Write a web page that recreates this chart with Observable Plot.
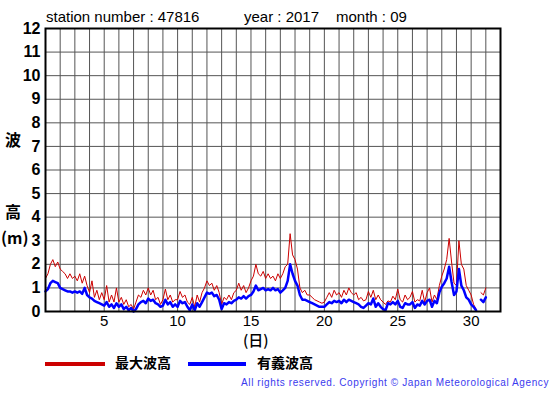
<!DOCTYPE html>
<html><head><meta charset="utf-8">
<script src="https://cdn.jsdelivr.net/npm/d3@7"></script>
<script src="https://cdn.jsdelivr.net/npm/@observablehq/plot@0.6"></script>
<style>
body{margin:0;background:#fff;}
#wrap{position:relative;width:555px;height:395px;font-family:"Liberation Sans",Arial,sans-serif;color:#000;overflow:hidden;}
.abs{position:absolute;white-space:pre;line-height:1;}
.cjk{font-family:"Noto Sans CJK JP","Liberation Sans",sans-serif;font-weight:bold;}
#wrap svg g[aria-label="y-axis tick label"] text{font-weight:bold;}
</style></head><body><div id="wrap"></div>
<script>
// ---- data (sampled every 4 hours, starting day 1 00h) ----
const titleParts = ["station number : 47816", "year : 2017", "month : 09"];
const samplesPerDay = 6;
const maxWave = [ // 最大波高 (m)
  1.4,1.6,2.0,2.2,1.9,2.1,
  1.8,1.7,1.6,1.4,1.6,1.4,
  1.5,1.3,1.6,1.2,1.5,1.1,
  0.8,1.3,0.6,0.9,0.5,0.8,
  0.5,1.1,0.4,0.7,0.4,1.0,
  0.4,0.6,0.3,0.5,0.2,0.3,
  0.1,0.4,0.7,0.6,0.9,0.7,
  1.0,0.7,0.9,0.5,0.6,0.3,
  0.5,0.95,0.5,0.7,0.4,0.5,
  0.5,0.85,0.6,0.7,0.4,0.3,
  0.6,0.2,0.7,0.4,0.8,1.0,
  1.3,1.1,1.2,0.9,1.1,0.8,
  0.3,0.6,0.5,0.7,0.5,0.8,
  0.9,1.2,0.9,1.1,0.8,1.0,
  1.3,1.5,2.0,1.6,1.5,1.7,
  1.4,1.6,1.4,1.5,1.3,1.6,
  1.4,1.6,1.9,2.0,3.3,2.4,
  2.2,1.8,1.0,0.8,0.9,0.7,
  0.7,0.6,0.5,0.45,0.4,0.35,
  0.4,0.6,0.8,0.6,0.9,0.7,
  0.8,0.6,0.9,0.7,1.0,0.8,
  0.7,0.8,0.5,0.6,0.45,0.5,
  0.85,0.6,0.9,0.5,0.7,0.5,
  0.4,0.3,0.45,0.4,0.65,0.5,
  0.95,0.5,0.4,0.7,0.5,0.6,
  0.85,0.4,0.5,0.45,0.9,0.4,
  0.8,1.0,0.4,0.7,0.5,1.1,
  1.5,1.8,2.2,3.1,2.1,1.2,
  1.1,3.0,2.0,1.8,1.1,0.9,
  0.7,0.3,0.1,null,0.8,0.7,
  1.0
];
const sigWave = [ // 有義波高 (m)
  0.85,0.95,1.2,1.3,1.25,1.2,
  1.0,0.95,0.9,0.85,0.85,0.8,
  0.85,0.8,0.85,0.75,1.0,0.7,
  0.6,0.55,0.45,0.4,0.35,0.3,
  0.25,0.4,0.2,0.3,0.15,0.35,
  0.2,0.3,0.1,0.2,0.05,0.15,
  0.0,0.1,0.3,0.4,0.45,0.35,
  0.55,0.45,0.5,0.35,0.3,0.2,
  0.25,0.5,0.3,0.4,0.2,0.3,
  0.2,0.45,0.35,0.4,0.2,0.05,
  0.3,0.05,0.35,0.2,0.4,0.6,
  0.8,0.75,0.8,0.65,0.7,0.5,
  0.1,0.35,0.3,0.4,0.35,0.45,
  0.5,0.6,0.55,0.65,0.55,0.65,
  0.7,0.85,1.1,0.9,0.95,1.0,
  0.9,0.95,0.9,1.0,0.9,0.95,
  0.8,0.9,1.0,1.3,2.0,1.6,
  1.3,1.1,0.7,0.5,0.5,0.45,
  0.4,0.35,0.3,0.25,0.2,0.2,
  0.2,0.3,0.4,0.35,0.45,0.4,
  0.45,0.35,0.5,0.4,0.5,0.45,
  0.4,0.35,0.3,0.2,0.15,0.25,
  0.35,0.3,0.55,0.2,0.35,0.2,
  0.1,0.05,0.35,0.3,0.4,0.3,
  0.45,0.2,0.15,0.35,0.3,0.3,
  0.4,0.15,0.3,0.25,0.45,0.3,
  0.45,0.5,0.2,0.45,0.35,0.8,
  1.05,1.2,1.4,1.9,1.25,0.7,
  0.85,1.8,1.1,0.9,0.6,0.5,
  0.3,0.2,0.05,null,0.5,0.4,
  0.6
];
const xTicks = [5,10,15,20,25,30];
const dayLines = [1,2,3,4,5,6,7,8,9,10,11,12,13,14,15,16,17,18,19,20,21,22,23,24,25,26,27,28,29,30,31,32];
const yTicks = [0,1,2,3,4,5,6,7,8,9,10,11,12];
const legendLabels = ["最大波高", "有義波高"];
const yLabelParts = ["波", "高", "(m)"];
const xLabel = "(日)";
const copyright = "All rights reserved. Copyright © Japan Meteorological Agency";

const toRows = arr => arr.map((v, i) => ({t: 1 + i / samplesPerDay, v}));
const maxRows = toRows(maxWave);
const sigRows = toRows(sigWave);

const chart = Plot.plot({
  width: 555, height: 395,
  marginLeft: 45, marginRight: 55, marginTop: 28, marginBottom: 84,
  x: {domain: [1, 32]},
  y: {domain: [0, 12]},
  style: {fontFamily: "Liberation Sans, Arial, sans-serif", color: "#000", background: "#fff"},
  marks: [
    Plot.gridX(dayLines, {stroke: "#555", strokeOpacity: 1, strokeWidth: 1}),
    Plot.gridY(yTicks, {stroke: "#555", strokeOpacity: 1, strokeWidth: 1}),
    Plot.line(maxRows, {x: "t", y: "v", stroke: "#cc0000", strokeWidth: 1}),
    Plot.line(sigRows, {x: "t", y: "v", stroke: "#0000ff", strokeWidth: 2.5}),
    Plot.frame({stroke: "#000", strokeWidth: 2}),
    Plot.axisY(yTicks, {tickSize: 0, tickPadding: 5, label: null, fontSize: 16, fontWeight: "bold"}),
    Plot.axisX(xTicks, {tickSize: 0, tickPadding: 4, label: null, fontSize: 15})
  ]
});
const wrap = document.getElementById("wrap");
chart.style.position = "absolute";
chart.style.left = "0px";
chart.style.top = "0px";
wrap.appendChild(chart);

function addText(txt, css, cls) {
  const d = document.createElement("div");
  d.className = "abs" + (cls ? " " + cls : "");
  d.textContent = txt;
  Object.assign(d.style, css);
  wrap.appendChild(d);
  return d;
}
addText(titleParts[0], {left: "46px", top: "9px", fontSize: "15px"});
addText(titleParts[1], {left: "244px", top: "9px", fontSize: "15px"});
addText(titleParts[2], {left: "336px", top: "9px", fontSize: "15px"});
addText(yLabelParts[0], {left: "5px", top: "131px", fontSize: "16px"}, "cjk");
addText(yLabelParts[1], {left: "5px", top: "203px", fontSize: "16px"}, "cjk");
addText(yLabelParts[2], {left: "1px", top: "229px", fontSize: "16px"}, "cjk");
addText(xLabel, {left: "243px", top: "332px", fontSize: "15px", fontFamily: "Noto Sans CJK JP, sans-serif", fontWeight: "500"});

function legendBar(left, width, color) {
  const b = document.createElement("div");
  Object.assign(b.style, {position: "absolute", left: left + "px", top: "362px", width: width + "px", height: "4px", background: color});
  wrap.appendChild(b);
}
legendBar(45, 60, "#cc0000");
addText(legendLabels[0], {left: "115px", top: "355px", fontSize: "14px"}, "cjk");
legendBar(188, 58, "#0000ff");
addText(legendLabels[1], {left: "257px", top: "355px", fontSize: "14px"}, "cjk");
addText(copyright, {right: "6px", top: "378px", fontSize: "10px", color: "#3a3aee", letterSpacing: "0.6px"});
</script>
</body></html>
